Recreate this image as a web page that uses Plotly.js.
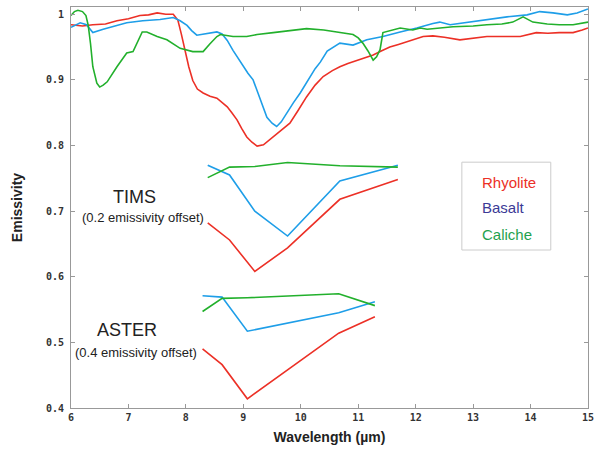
<!DOCTYPE html>
<html><head><meta charset="utf-8">
<script src="https://cdn.plot.ly/plotly-3.0.1.min.js"></script>
<style>html,body{margin:0;padding:0;background:#fff}#c{width:600px;height:450px}</style>
</head><body><div id="c"></div>
<script>
// Laboratory spectra
const rhyoliteX = [6.0,6.2,6.38,6.6,6.8,7.0,7.2,7.35,7.5,7.65,7.78,7.86,7.92,7.98,8.05,8.12,8.2,8.3,8.42,8.54,8.63,8.72,8.8,8.89,8.97,9.06,9.15,9.24,9.35,9.52,9.65,9.81,9.95,10.1,10.25,10.39,10.55,10.68,10.82,10.98,11.1,11.26,11.4,11.55,11.7,11.85,12.0,12.13,12.3,12.5,12.77,13.0,13.24,13.5,13.82,14.1,14.3,14.5,14.74,14.9,15.0];
const rhyoliteY = [0.984,0.982,0.984,0.985,0.99,0.993,0.998,0.999,1.002,1.0,1.0,0.991,0.97,0.945,0.92,0.899,0.886,0.88,0.875,0.872,0.866,0.859,0.85,0.839,0.826,0.813,0.805,0.799,0.801,0.813,0.822,0.834,0.853,0.874,0.892,0.905,0.914,0.92,0.925,0.93,0.933,0.938,0.944,0.95,0.954,0.958,0.962,0.966,0.967,0.965,0.961,0.963,0.966,0.966,0.966,0.972,0.971,0.972,0.972,0.976,0.979];

const basaltX = [6.0,6.16,6.27,6.38,6.56,6.75,6.97,7.25,7.55,7.78,7.9,8.02,8.1,8.19,8.37,8.54,8.63,8.72,8.82,8.91,9.0,9.08,9.17,9.23,9.29,9.35,9.41,9.5,9.58,9.66,9.76,9.87,9.99,10.08,10.16,10.25,10.34,10.46,10.68,10.8,10.91,11.15,11.43,11.73,12.02,12.3,12.42,12.6,12.83,13.24,13.59,13.94,14.16,14.39,14.64,14.81,14.92,15.0];
const basaltY = [0.98,0.987,0.984,0.972,0.977,0.982,0.987,0.99,0.992,0.995,0.99,0.983,0.975,0.968,0.971,0.973,0.970,0.960,0.945,0.933,0.920,0.910,0.900,0.885,0.870,0.856,0.843,0.834,0.829,0.836,0.850,0.865,0.880,0.893,0.905,0.917,0.927,0.944,0.956,0.955,0.953,0.961,0.966,0.973,0.979,0.986,0.988,0.984,0.987,0.992,0.996,0.999,1.004,1.002,0.999,1.002,1.006,1.008];

const calicheX = [6.0,6.06,6.12,6.2,6.26,6.3,6.34,6.38,6.45,6.5,6.56,6.63,6.8,6.97,7.08,7.16,7.24,7.32,7.5,7.67,7.9,8.12,8.3,8.42,8.54,8.6,8.82,9.06,9.24,9.52,9.8,10.1,10.4,10.68,10.91,11.0,11.08,11.17,11.26,11.32,11.38,11.43,11.73,11.95,12.08,12.2,12.42,12.65,13.0,13.24,13.5,13.69,13.87,14.04,14.29,14.5,14.74,14.95,15.0];
const calicheY = [0.998,1.004,1.006,1.004,0.998,0.983,0.955,0.92,0.895,0.889,0.892,0.897,0.92,0.941,0.943,0.958,0.973,0.973,0.966,0.961,0.948,0.943,0.943,0.955,0.966,0.969,0.966,0.966,0.969,0.972,0.975,0.978,0.976,0.972,0.969,0.964,0.956,0.944,0.93,0.935,0.946,0.972,0.979,0.976,0.979,0.977,0.979,0.981,0.982,0.984,0.985,0.988,0.996,0.988,0.985,0.984,0.984,0.987,0.988];

// TIMS band-convolved spectra (0.2 emissivity offset)
const timsX = [8.38,8.76,9.2,9.77,10.68,11.69];
const timsRhyolite = [0.682,0.656,0.608,0.644,0.718,0.748];
const timsBasalt = [0.770,0.755,0.700,0.662,0.746,0.770];
const timsCaliche = [0.751,0.767,0.768,0.774,0.769,0.767];

// ASTER band-convolved spectra (0.4 emissivity offset)
const asterX = [8.29,8.63,9.07,10.66,11.29];
const asterRhyolite = [0.490,0.466,0.414,0.514,0.539];
const asterBasalt = [0.571,0.569,0.517,0.545,0.562];
const asterCaliche = [0.547,0.567,0.568,0.574,0.556];

const legendLabels = ['Rhyolite','Basalt','Caliche'];

const RED = 'rgb(236,48,38)', BLUE = 'rgb(30,158,232)', GREEN = 'rgb(34,176,44)';
const lw = 1.6;
function tr(x, y, c){ return {x:x, y:y, type:'scatter', mode:'lines', line:{color:c, width:lw}, hoverinfo:'skip'}; }

const data = [
  tr(rhyoliteX, rhyoliteY, RED),
  tr(basaltX, basaltY, BLUE),
  tr(calicheX, calicheY, GREEN),
  tr(timsX, timsRhyolite, RED),
  tr(timsX, timsBasalt, BLUE),
  tr(timsX, timsCaliche, GREEN),
  tr(asterX, asterRhyolite, RED),
  tr(asterX, asterBasalt, BLUE),
  tr(asterX, asterCaliche, GREEN)
];

const tickFont = {family:'DejaVu Sans Mono', size:10, color:'#333', weight:'bold'};
const axisCommon = {showline:true, linecolor:'#999', linewidth:1, mirror:'ticks', ticks:'inside', ticklen:4, tickcolor:'#999', showgrid:false, zeroline:false, tickfont:tickFont};

const layout = {
  width:600, height:450,
  margin:{l:71, r:12, t:7, b:42},
  paper_bgcolor:'#fff', plot_bgcolor:'#fff',
  showlegend:false,
  xaxis: Object.assign({}, axisCommon, {range:[6,15], dtick:1, tick0:6,
    title:{text:'Wavelength (µm)', font:{family:'Liberation Sans', size:14, color:'#222', weight:'bold'}, standoff:10}}),
  yaxis: Object.assign({}, axisCommon, {range:[0.4,1.011], dtick:0.1, tick0:0.4, ticklabelstandoff:4,
    title:{text:'Emissivity', font:{family:'Liberation Sans', size:14, color:'#222', weight:'bold'}, standoff:20}}),
  shapes:[{type:'rect', xref:'paper', yref:'paper', x0:0.756, x1:0.928, y0:0.394, y1:0.613, line:{color:'#ccc', width:1}}],
  annotations:[
    {x:7.11, y:0.722, text:'TIMS', showarrow:false, font:{family:'Liberation Sans', size:18, color:'#222'}},
    {x:7.25, y:0.690, text:'(0.2 emissivity offset)', showarrow:false, font:{family:'Liberation Sans', size:13, color:'#222'}},
    {x:6.97, y:0.519, text:'ASTER', showarrow:false, font:{family:'Liberation Sans', size:18, color:'#222'}},
    {x:7.13, y:0.485, text:'(0.4 emissivity offset)', showarrow:false, font:{family:'Liberation Sans', size:13, color:'#222'}},
    {x:13.12, y:0.744, xanchor:'left', text:legendLabels[0], showarrow:false, font:{family:'Liberation Sans', size:15, color:RED}},
    {x:13.12, y:0.705, xanchor:'left', text:legendLabels[1], showarrow:false, font:{family:'Liberation Sans', size:15, color:'#3b3a96'}},
    {x:13.12, y:0.665, xanchor:'left', text:legendLabels[2], showarrow:false, font:{family:'Liberation Sans', size:15, color:'#1fa24e'}}
  ]
};

Plotly.newPlot('c', data, layout, {displayModeBar:false, staticPlot:true});
</script>
</body></html>
